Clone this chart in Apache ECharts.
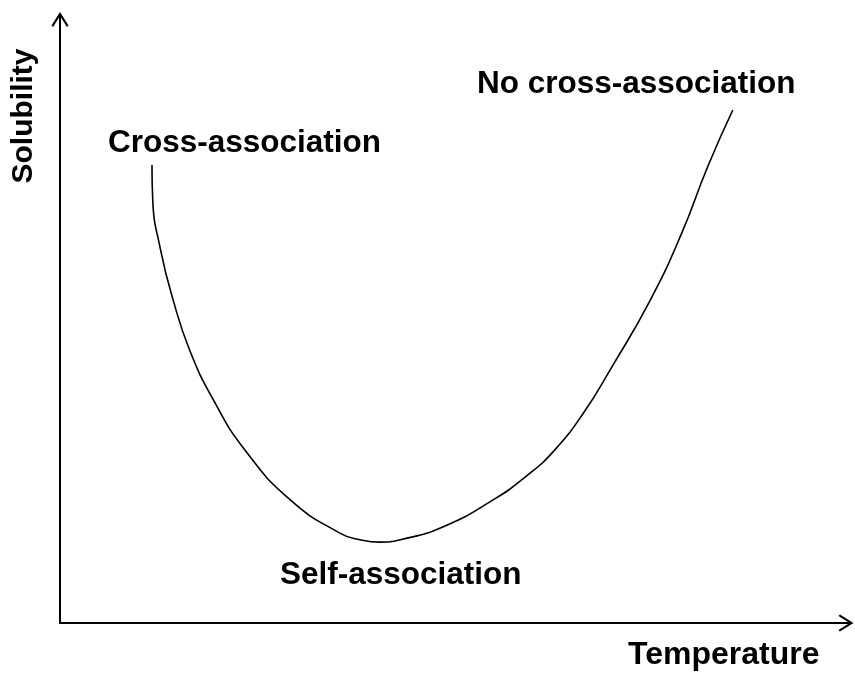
<!DOCTYPE html>
<html>
<head>
<meta charset="utf-8">
<script src="https://cdn.jsdelivr.net/npm/echarts@6/dist/echarts.min.js"></script>
<style>
  html, body { margin: 0; padding: 0; background: #fff; }
  #chart { width: 855px; height: 677px; }
</style>
</head>
<body>
<div id="chart"></div>
<script>
// schematic: arbitrary units, 0..100 on both axes
const temperature = [11.7, 11.8, 12.8, 14.4, 16.5, 19.5, 23.5, 29.3, 35.6, 38.2, 40.7, 43.3,
  48.7, 55.1, 59.4, 62.9, 66.6, 70.2, 75.1, 79.1, 82.4, 85.6]
const solubility = [75.9, 70.1, 61.8, 53.5, 45.2, 37.0, 28.7, 20.4, 14.9, 13.8, 13.4, 13.8,
  15.9, 20.4, 24.4, 28.6, 34.8, 42.4, 53.5, 64.6, 75.6, 85.0]
const xName = 'Temperature'
const yName = 'Solubility'
const labels = ['Cross-association', 'No cross-association', 'Self-association']

const font = '"Liberation Sans", Arial, sans-serif'
// open arrow head (with stem) pointing up; ECharts rotates it along the axis
const arrow = 'path://M8.5,0 L17,13.6 L15.4,15 L9.5,5.5 L9.5,15 L7.5,15 L7.5,5.5 L1.6,15 L0,13.6 Z'

const axisCommon = {
  type: 'value',
  min: 0,
  max: 100,
  axisLine: {
    show: true,
    symbol: ['none', arrow],
    symbolSize: [17, 15],
    lineStyle: { color: '#000', width: 2 }
  },
  axisTick: { show: false },
  axisLabel: { show: false },
  splitLine: { show: false }
}

function textEl(text, x, y, size) {
  return {
    type: 'text',
    x: x,
    y: y,
    style: {
      text: text,
      fill: '#000',
      font: 'bold ' + (size || 31.5) + 'px ' + font,
      textAlign: 'left',
      textVerticalAlign: 'middle'
    }
  }
}

const chart = echarts.init(document.getElementById('chart'), null, { renderer: 'canvas' })
chart.setOption({
  animation: false,
  backgroundColor: '#fff',
  grid: { left: 60, right: 9, top: 19.5, bottom: 54 },
  xAxis: Object.assign({}, axisCommon),
  yAxis: Object.assign({}, axisCommon),
  series: [{
    type: 'line',
    data: temperature.map((t, i) => [t, solubility[i]]),
    smooth: 0.5,
    showSymbol: false,
    lineStyle: { color: '#000', width: 1.6 }
  }],
  graphic: [
    textEl(labels[0], 108, 143),
    textEl(labels[1], 477, 84),
    textEl(labels[2], 280, 575),
    textEl(xName, 628, 655, 32),
    {
      type: 'text',
      x: 24,
      y: 116,
      rotation: Math.PI / 2,
      style: {
        text: yName,
        fill: '#000',
        font: 'bold 30px ' + font,
        textAlign: 'center',
        textVerticalAlign: 'middle'
      }
    }
  ]
})
</script>
</body>
</html>
